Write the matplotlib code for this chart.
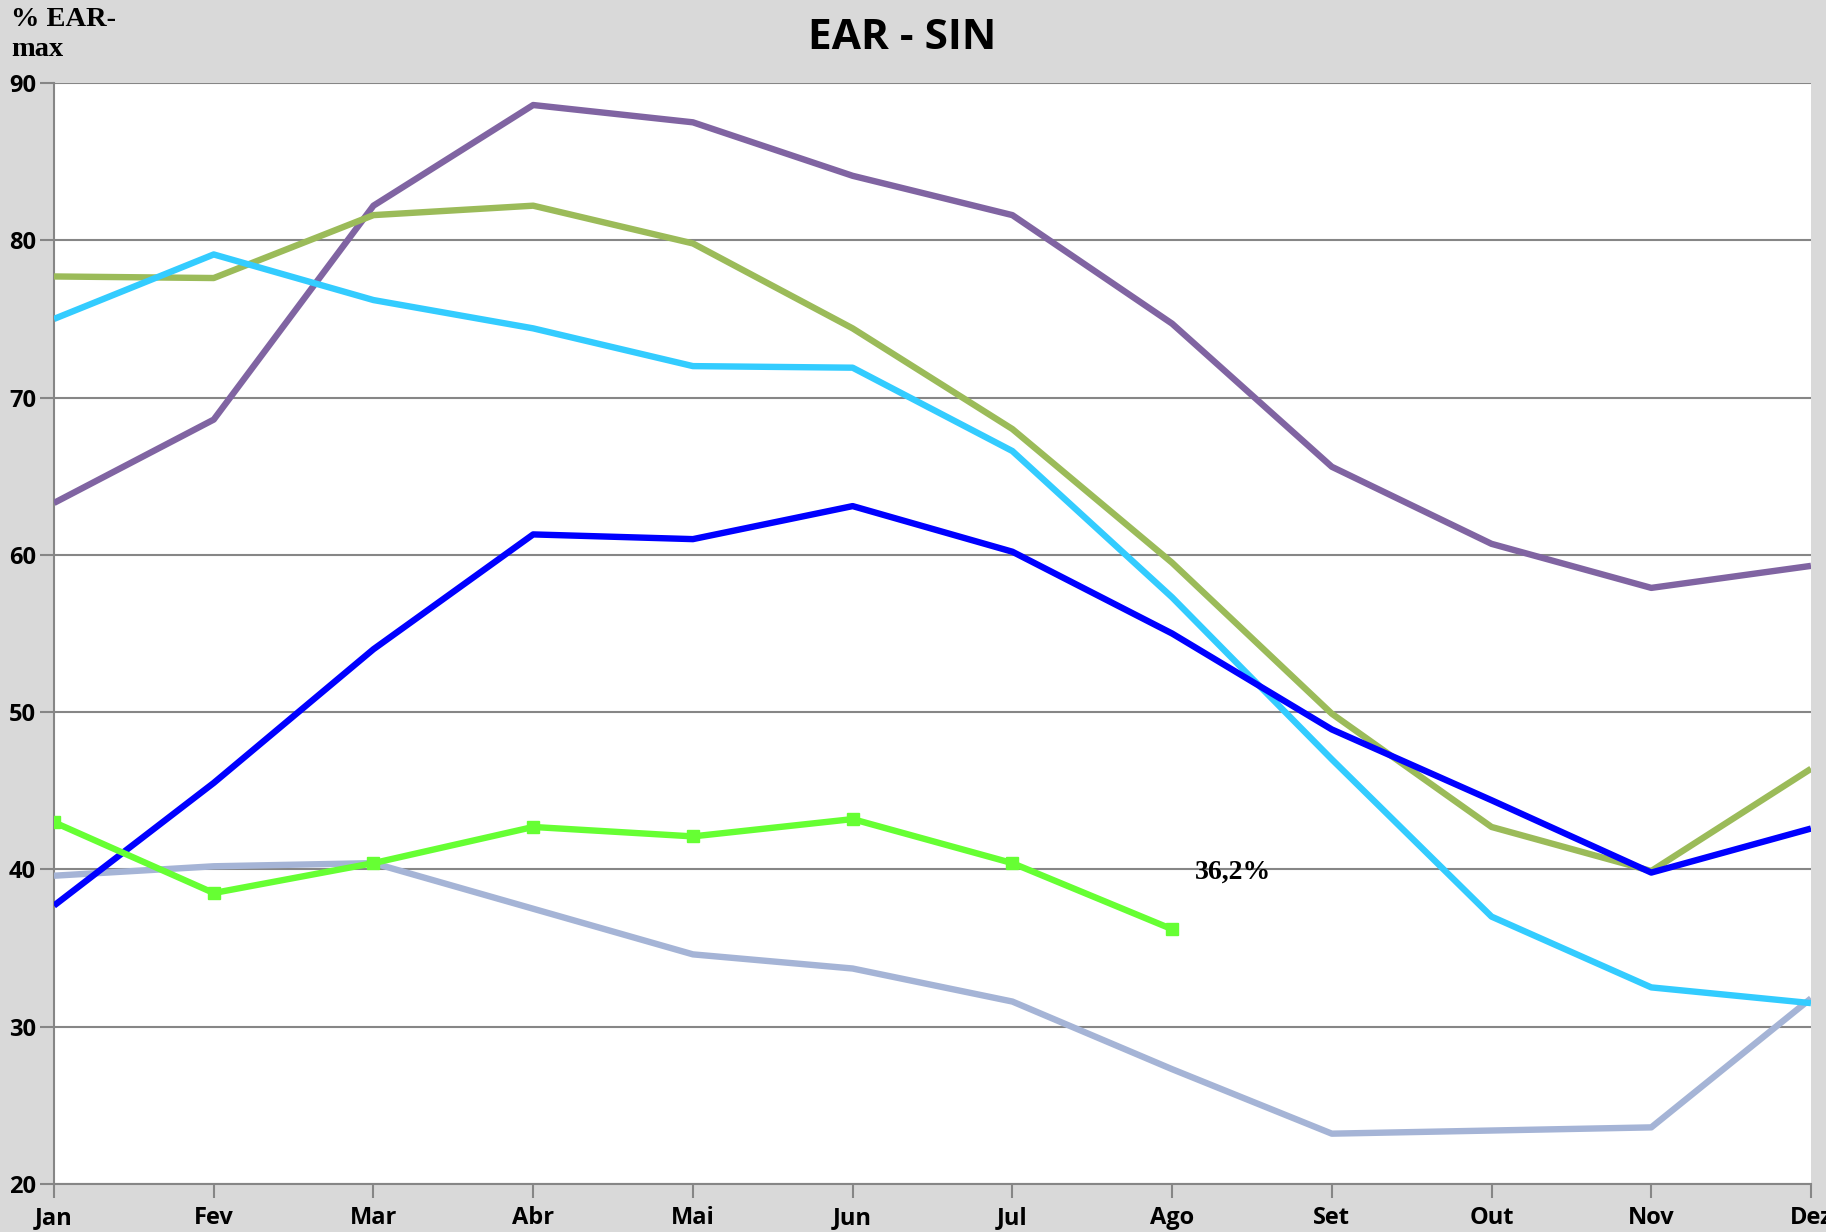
import numpy as np
import matplotlib.pyplot as plt

meses = ["Jan", "Fev", "Mar", "Abr", "Mai", "Jun", "Jul", "Ago", "Set", "Out", "Nov", "Dez"]

ear_roxo = [63.3, 68.6, 82.2, 88.6, 87.5, 84.1, 81.6, 74.7, 65.6, 60.7, 57.9, 59.3]
ear_oliva = [77.7, 77.6, 81.6, 82.2, 79.8, 74.4, 68.0, 59.5, 49.9, 42.7, 39.9, 46.4]
ear_ciano = [75.0, 79.1, 76.2, 74.4, 72.0, 71.9, 66.6, 57.3, 47.0, 37.0, 32.5, 31.5]
ear_azul = [37.7, 45.5, 54.0, 61.3, 61.0, 63.1, 60.2, 55.0, 48.9, 44.4, 39.8, 42.6]
ear_cinza = [39.6, 40.2, 40.4, 37.5, 34.6, 33.7, 31.6, 27.3, 23.2, 23.4, 23.6, 31.8]
ear_atual = [43.0, 38.5, 40.4, 42.7, 42.1, 43.2, 40.4, 36.2]

rotulo_atual = "36,2%"

bg = "#D9D9D9"
grid_c = "#868686"

fig = plt.figure(figsize=(18.26, 12.32), dpi=100, facecolor=bg)
ax = fig.add_axes([54 / 1826, 1 - 1184 / 1232, (1811 - 54) / 1826, (1184 - 83) / 1232])
ax.set_facecolor("white")

x = np.arange(len(meses))
lw = 4.6
ax.plot(x, ear_cinza, color="#A5B4D6", lw=lw, solid_capstyle="butt", zorder=3)
ax.plot(x, ear_roxo, color="#8064A2", lw=lw, solid_capstyle="butt", zorder=3)
ax.plot(x, ear_oliva, color="#9BBB59", lw=lw, solid_capstyle="butt", zorder=3)
ax.plot(x, ear_ciano, color="#33CCFF", lw=lw, solid_capstyle="butt", zorder=3)
ax.plot(x, ear_azul, color="#0000FF", lw=lw, solid_capstyle="butt", zorder=3)
ax.plot(x[:len(ear_atual)], ear_atual, color="#66FF33", lw=lw, marker="s", ms=8,
        solid_capstyle="butt", zorder=4)

ax.text(x[len(ear_atual) - 1] + 0.38, 39.8, rotulo_atual, family="Liberation Serif",
        fontweight="bold", fontsize=20, ha="center", va="center", zorder=5)

ax.set_xlim(0, 11)
ax.set_ylim(20, 90)
ax.set_yticks(np.arange(20, 91, 10))
ax.set_xticks(x)
ax.set_xticklabels(meses)
ax.yaxis.grid(True, color=grid_c, lw=1.5, zorder=1)
ax.set_axisbelow(True)

for s in ["top", "right"]:
    ax.spines[s].set_visible(False)
for s in ["left", "bottom"]:
    ax.spines[s].set_color(grid_c)
    ax.spines[s].set_linewidth(1.5)

ax.tick_params(axis="both", colors=grid_c, length=10, width=1.5, direction="out")
for lab in ax.get_xticklabels() + ax.get_yticklabels():
    lab.set_color("black")
    lab.set_fontfamily("Open Sans")
    lab.set_fontweight("bold")
    lab.set_fontsize(17)
ax.tick_params(axis="y", pad=3)
ax.tick_params(axis="x", pad=6)

fig.text(0.494, 0.985, "EAR - SIN", family="Open Sans", fontweight="bold",
         fontsize=30.5, ha="center", va="top")
fig.text(0.006, 0.994, "% EAR-\nmax", family="Liberation Serif", fontweight="bold",
         fontsize=20.5, ha="left", va="top", linespacing=1.25)

fig.savefig("out.png", dpi=100, facecolor=bg)
